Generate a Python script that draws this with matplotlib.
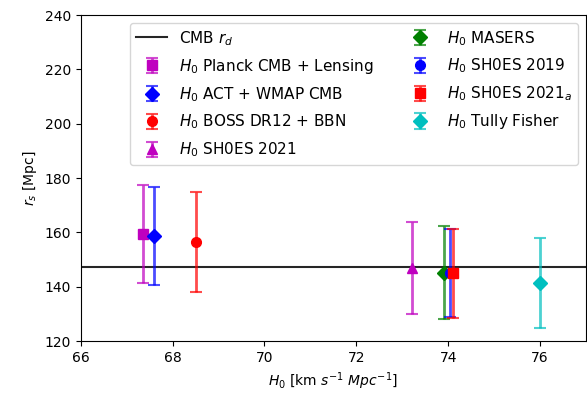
import matplotlib
matplotlib.use("Agg")
import matplotlib.pyplot as plt

labels = ["$H_0$ Planck CMB + Lensing", "$H_0$ ACT + WMAP CMB", "$H_0$ BOSS DR12 + BBN",
          "$H_0$ SH0ES 2021", "$H_0$ MASERS", "$H_0$ SH0ES 2019",
          "$H_0$ SH0ES 2021$_a$", "$H_0$ Tully Fisher"]
h0 = [67.36, 67.6, 68.5, 73.2, 73.9, 74.03, 74.1, 76.0]
rs = [159.3, 158.6, 156.4, 146.8, 145.2, 145.0, 144.9, 141.3]
rs_err = [18.1, 18.0, 18.4, 17.0, 17.2, 16.3, 16.3, 16.6]
markers = ["s", "D", "o", "^", "D", "o", "s", "D"]
colors = ["m", "b", "r", "m", "g", "b", "r", "c"]
cmb_rd = 147.1

fig = plt.figure(figsize=(5.87, 3.97), dpi=100)
ax = fig.add_axes([0.1375, 0.141, 0.861, 0.821])

ax.axhline(cmb_rd, color="k", lw=1.5, alpha=0.85, label="CMB $r_d$", zorder=1)
for x, y, e, m, c, lab in zip(h0, rs, rs_err, markers, colors, labels):
    eb = ax.errorbar(x, y, yerr=e, fmt=m, color=c, ms=7, capsize=4,
                     elinewidth=2, capthick=1.5, label=lab)
    for art in eb[1] + eb[2]:
        art.set_alpha(0.7)

ax.set_xlim(66, 77)
ax.set_ylim(120, 240)
ax.set_xlabel("$H_0$ [km $s^{-1}$ $Mpc^{-1}$]")
ax.set_ylabel("$r_s$ [Mpc]")
ax.legend(ncol=2, loc="upper right", fontsize=11, labelspacing=0.6)

fig.savefig("out.png", dpi=100)
